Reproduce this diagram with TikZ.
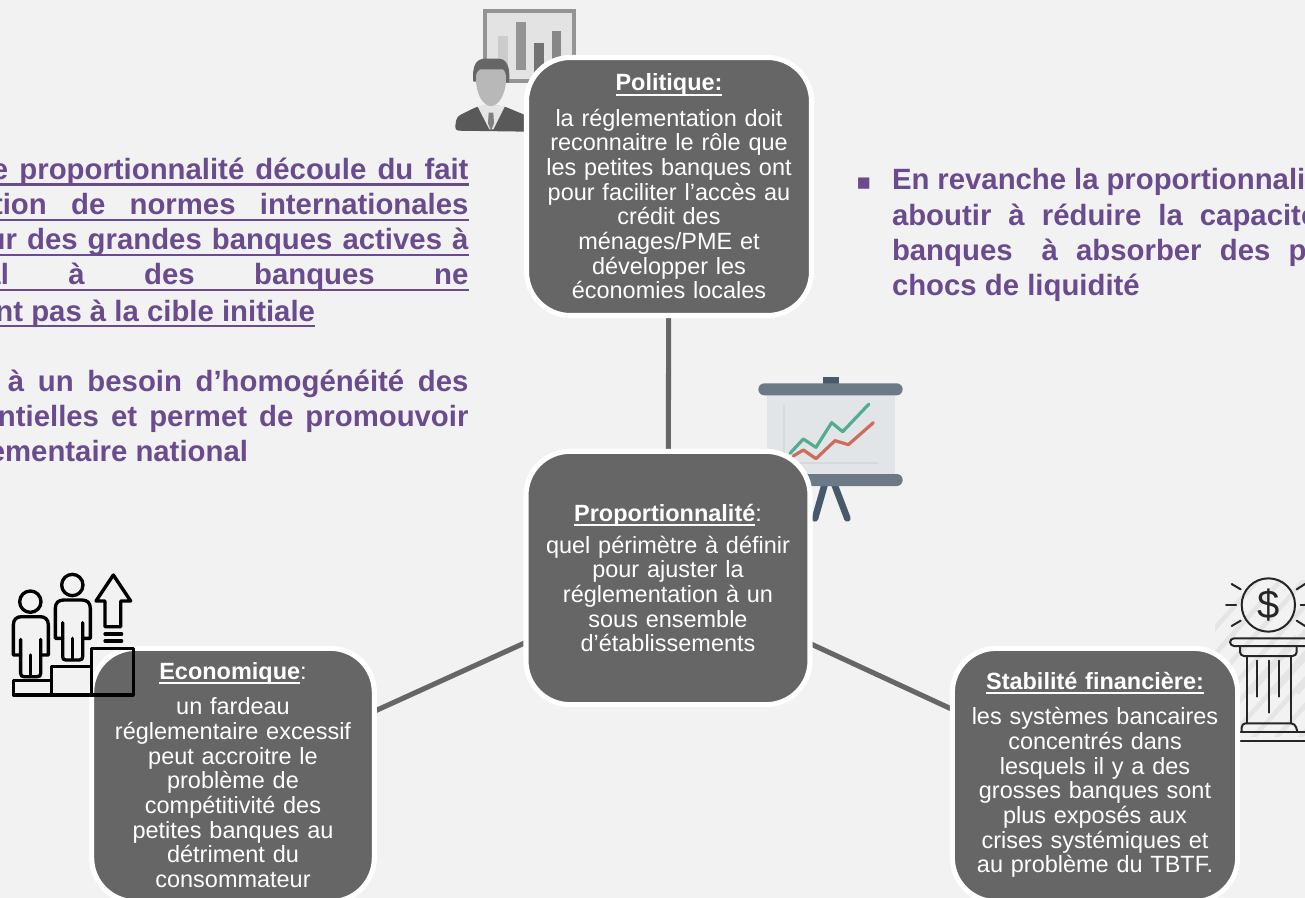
\documentclass[tikz,border=0pt]{standalone}
\usepackage{fontspec}
\setmainfont{Liberation Sans}
\newfontfamily\djv{DejaVu Sans}
\pgfdeclarelayer{background}
\pgfsetlayers{background,main}
\definecolor{pagebg}{HTML}{F2F2F2}
\definecolor{boxgrey}{HTML}{666666}
\definecolor{violet}{HTML}{6A4C8E}
\definecolor{slatedark}{RGB}{71,89,107}
\definecolor{slate}{RGB}{108,122,135}
\definecolor{screen}{RGB}{226,229,231}
\definecolor{screenline}{RGB}{214,218,221}
\definecolor{chartgreen}{RGB}{84,172,142}
\definecolor{chartred}{RGB}{203,108,92}
\newcommand\ulb[1]{\setbox0=\hbox{#1}\rlap{\rule[-4.6pt]{\wd0}{1.9pt}}\box0\relax}
\newcommand\ult[1]{\setbox0=\hbox{\bfseries #1}\rlap{\rule[-3.6pt]{\wd0}{1.4pt}}\box0\relax}
\newcommand\jl[2]{\hbox to #1pt{#2}}
\tikzset{
  card/.style={draw=white,line width=3.8pt,fill=boxgrey,rounded corners=33pt,inner sep=0pt,outer sep=0pt,
    text=white,align=center,font=\fontsize{17.6}{18.5}\selectfont,text width=205pt},
  link/.style={draw=boxgrey,line width=3.8pt},
  ptext/.style={text=violet,font=\fontsize{22}{24}\selectfont\bfseries,inner sep=0pt,outer sep=0pt},
  iconline/.style={draw=black,line width=2.5pt,line join=round,line cap=round},
  pilline/.style={draw=black!85,line width=1.5pt,line join=round,line cap=round}
}
\begin{document}
\begin{tikzpicture}[x=0.75pt,y=-0.75pt]
\useasboundingbox (0,0) rectangle (1305,898);

% cards
\node[card,minimum width=213.75pt,minimum height=193.5pt] (pol) at (669,186.5) {\ult{Politique:}\\[8pt]
la réglementation doit\\reconnaitre le rôle que\\les petites banques ont\\pour faciliter l’accès au\\crédit des\\ménages/PME et\\développer les\\économies locales};
\node[card,minimum width=213pt,minimum height=190pt] (prop) at (668,578) {\ult{Proportionnalité}:\\[5.5pt]
quel périmètre à définir\\pour ajuster la\\réglementation à un\\sous ensemble\\d’établissements};
\node[card,minimum width=212pt,minimum height=190pt] (eco) at (233,775) {\ult{Economique}:\\[8pt]
un fardeau\\réglementaire excessif\\peut accroitre le\\problème de\\compétitivité des\\petites banques au\\détriment du\\consommateur};
\node[card,minimum width=214pt,minimum height=190pt] (stab) at (1095,775) {\ult{Stabilité financière:}\\[8pt]
les systèmes bancaires\\concentrés dans\\lesquels il y a des\\grosses banques sont\\plus exposés aux\\crises systémiques et\\au problème du TBTF.};

\begin{pgfonlayer}{background}
\fill[pagebg] (0,0) rectangle (1305,898);
\draw[link] (pol) -- (prop);
\draw[link] (prop) -- (eco);
\draw[link] (prop) -- (stab);

% man + bar chart
\begin{scope}[shift={(440,0)},scale=1/3]
  \fill[black!11] (129,28) rectangle (409,248);
  \draw[black!42,line width=2.8pt] (135,34) rectangle (403,243);
  \fill[black!20] (174,108) rectangle (203,230);
  \fill[black!42] (228,67) rectangle (257,210);
  \fill[black!55] (282,128) rectangle (311,220);
  \fill[black!47] (335,92) rectangle (364,200);
  % body
  \fill[black!65,rounded corners=3pt] (44,392) -- (50,350) -- (115,318) -- (190,318) -- (262,348) -- (262,395) -- cycle;
  \fill[black!10] (112,318) -- (148,388) -- (160,388) -- (195,318) -- cycle;
  \fill[black!50] (146,338) -- (160,338) -- (162,370) -- (153,392) -- (144,370) -- cycle;
  % hair then face
  \fill[black!60] (100,245) .. controls (95,195) and (110,176) .. (135,176) -- (175,176) .. controls (200,176) and (212,200) .. (207,248) -- cycle;
  \fill[black!28] (108,235) .. controls (108,220) and (112,212) .. (120,208) -- (188,208) .. controls (195,212) and (198,222) .. (198,235) .. controls (198,285) and (175,318) .. (153,318) .. controls (130,318) and (108,285) .. (108,235) -- cycle;
\end{scope}

% presentation board
\begin{scope}[shift={(740,370)},scale=1/3]
  \draw[slatedark,line width=5pt,line cap=round] (255,340) -- (225,445);
  \draw[slatedark,line width=5pt,line cap=round] (282,340) -- (322,445);
  \fill[slatedark] (248,20) rectangle (296,42);
  \fill[screen] (80,70) rectangle (465,315);
  \fill[screenline] (128,105) rectangle (134,280);
  \fill[screenline] (128,275) rectangle (414,281);
  \fill[slate,rounded corners=4.5pt] (55,40) rectangle (488,76);
  \fill[slate,rounded corners=4.5pt] (55,312) rectangle (488,348);
  \draw[chartgreen,line width=2.4pt,line cap=round,line join=round] (150,250) -- (190,207) -- (228,232) -- (275,158) -- (308,185) -- (386,103);
  \draw[chartred,line width=2.4pt,line cap=round,line join=round] (160,258) -- (190,240) -- (228,266) -- (285,212) -- (325,224) -- (400,158);
\end{scope}

% pillar
\begin{scope}[shift={(1190,560)},scale=1/3]
  \begin{scope}
    \clip (75,60) rectangle (345,530);
    \foreach \k in {0,70,...,770}
      \draw[black!10,line width=3.5pt] (\k-100,400) -- ++(420,-470);
    \foreach \k in {0,70,...,770}
      \draw[black!10,line width=3.5pt] (\k-100,700) -- ++(420,-470);
  \end{scope}
  \draw[pilline] (235,135) circle (80);
  \node[text=black!85,font=\fontsize{30}{30}\selectfont,inner sep=0pt] (dollar) at (235,135) {\$};
  \foreach \a/\b/\c/\d in {125/72/152/88, 108/135/138/135, 125/198/152/182, 345/72/320/88, 345/135/332/135, 345/198/320/182}
    \draw[pilline] (\a,\b) -- (\c,\d);
  \draw[pilline,rounded corners=3pt] (350,235) -- (120,235) -- (120,258) -- (350,258);
  \draw[pilline,rounded corners=3pt] (150,262) -- (150,288) -- (320,288) -- (320,262);
  \draw[pilline] (172,290) -- (172,490);
  \draw[pilline] (302,290) -- (302,490);
  \draw[pilline] (202,302) -- (202,410);
  \draw[pilline] (237,302) -- (237,458);
  \draw[pilline] (268,302) -- (268,410);
  \draw[pilline,rounded corners=3pt] (155,515) -- (155,490) -- (315,490) -- (322,515);
  \draw[pilline] (150,515) -- (350,515);
  \draw[pilline] (152,542) -- (350,542);
\end{scope}
\end{pgfonlayer}

% stairs icon, on top of the card
\begin{scope}[shift={(0,560)},scale=1/3]
  \draw[iconline] (40,362) rectangle (155,405);
  \draw[iconline] (155,320) rectangle (275,405);
  \draw[iconline] (275,265) rectangle (400,405);
  \foreach \dx/\dy in {0/0,126/-50}{
    \begin{scope}[shift={(\dx,\dy)}]
      \draw[iconline] (91,125) circle (32);
      \draw[iconline] (62,285) -- (40,285) -- (40,195) .. controls (40,178) and (50,170) .. (65,170) -- (120,170) .. controls (135,170) and (145,178) .. (145,195) -- (145,285) -- (122,285);
      \draw[iconline] (62,238) -- (62,340) .. controls (62,347) and (65,350) .. (72,350) -- (112,350) .. controls (119,350) and (122,347) .. (122,340) -- (122,238);
      \draw[iconline] (91,285) -- (91,345);
    \end{scope}
  }
  \draw[iconline] (340,45) -- (392,123) -- (362,123) -- (362,200) -- (315,200) -- (315,123) -- (288,123) -- cycle;
  \draw[iconline] (315,222) -- (365,222);
  \draw[iconline] (315,243) -- (365,243);
\end{scope}

% left text
\node[ptext,anchor=base east] (l1) at (468.5,179.5) {\ulb{\jl{357.4}{e proportionnalité découle du fait}}};
\node[ptext,anchor=base east] (l2) at (468.5,215) {\ulb{\jl{356.6}{tion de normes internationales}}};
\node[ptext,anchor=base east] (l3) at (468.5,250) {\ulb{\jl{360.6}{ur des grandes banques actives à}}};
\node[ptext,anchor=base east] (l4) at (468.5,285) {\ulb{\jl{363}{al à des banques ne}}};
\node[ptext,anchor=base east] (l5) at (315,321) {\ulb{nt pas à la cible initiale}};
\node[ptext,anchor=base east] (l6) at (468.5,391) {\jl{345.4}{à un besoin d’homogénéité des}};
\node[ptext,anchor=base east] (l7) at (468.5,426) {\jl{352.9}{ntielles et permet de promouvoir}};
\node[ptext,anchor=base east] (l8) at (248,461) {ementaire national};

% right text
\node[ptext,anchor=base west] (bul) at (856,190) {{\djv\fontsize{17}{17}\selectfont ▪}};
\node[ptext,anchor=base west] (r1) at (892,190) {\jl{310}{En revanche la proportionnali}};
\node[ptext,anchor=base west] (r2) at (892,226) {\jl{319}{aboutir à réduire la capacité}};
\node[ptext,anchor=base west] (r3) at (892,261) {\jl{311}{banques\hspace{8pt} à absorber des p}};
\node[ptext,anchor=base west] (r4) at (892,296) {chocs de liquidité};
\end{tikzpicture}
\end{document}
